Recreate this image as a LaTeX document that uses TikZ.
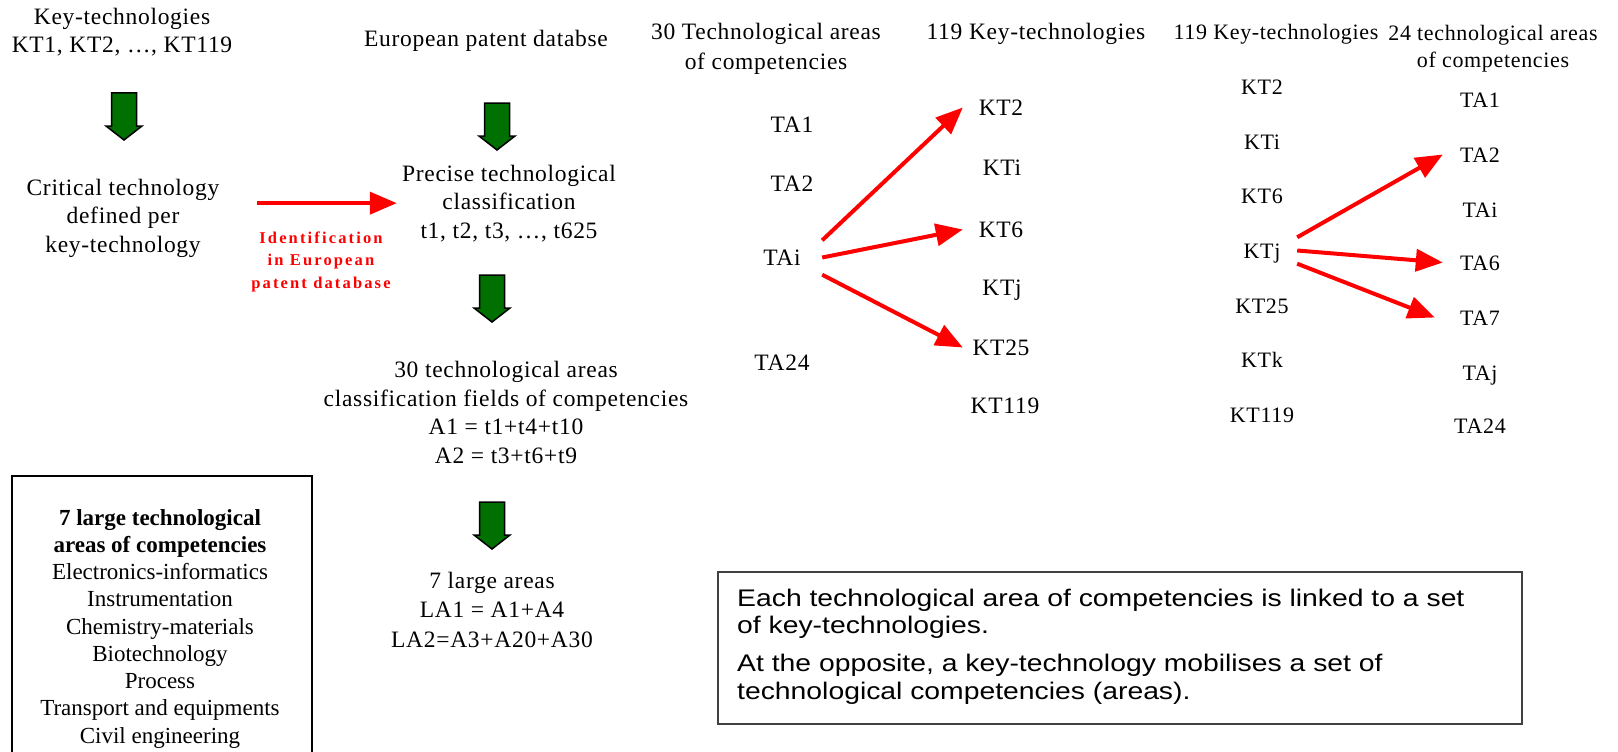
\documentclass[tikz,border=0pt]{standalone}
\usepackage{fontspec}
\setmainfont{Liberation Serif}[LetterSpace=3]
\newfontfamily\plainserif{Liberation Serif}
\newfontfamily\boxsans{Liberation Sans}[FakeStretch=1.18]
\usetikzlibrary{arrows.meta}
\definecolor{arrgreen}{RGB}{0,112,0}
\definecolor{purered}{RGB}{255,0,0}
\tikzset{
  txt/.style={anchor=base, align=center, inner sep=0pt, font=\fontsize{23.5}{28.5}\selectfont},
  item/.style={anchor=base, inner sep=0pt, text height=15pt, text depth=0pt, font=\fontsize{23.5}{28}\selectfont},
  ritem/.style={item, font=\fontsize{22}{28}\selectfont},
  redarrow/.style={draw=purered, line width=4pt, -{Triangle[length=27pt,width=22pt]}},
  frameline/.style={draw=black, line width=1.3pt},
  garrow/.pic={\draw[fill=arrgreen, draw=black, line width=1.5pt, line join=miter]
     (-12.5,0) -- (12.5,0) -- (12.5,33) -- (18,33) -- (0,47) -- (-18,33) -- (-12.5,33) -- cycle;}
}
\begin{document}
\begin{tikzpicture}[x=1pt, y=-1pt]
\useasboundingbox (0,0) rectangle (1618,752);

% (multi-line nodes are placed by the baseline of their last line)
% ---------- left column ----------
\node[txt] (kt) at (122,53) {Key-technologies\\KT1, KT2, \ldots, KT119};
\pic at (124,93) {garrow};
\node[txt, minimum width=268pt] (crit) at (123,252) {Critical technology\\defined per\\key-technology};
\node[anchor=base, align=center, inner sep=0pt, text=purered,
      font=\bfseries\fontsize{16.5}{22.5}\selectfont\addfontfeature{LetterSpace=13}] (idl) at (321,288)
      {Identification\\in European\\patent database};

% ---------- middle column ----------
\node[txt] (epd) at (486,47) {European patent databse};
\pic at (497,103) {garrow};
\node[txt, minimum width=224pt] (prec) at (509,238) {Precise technological\\classification\\t1, t2, t3, \ldots, t625};
\pic at (492,275) {garrow};
\node[txt] (ta30) at (506,463) {30 technological areas\\classification fields of competencies\\A1 = t1+t4+t10\\A2 = t3+t6+t9};
\pic at (492,502) {garrow};
\node[txt, font=\fontsize{23.5}{29.5}\selectfont] (la) at (492,647) {7 large areas\\LA1 = A1+A4\\LA2=A3+A20+A30};

\draw[redarrow] (crit.east |- prec.west) -- (prec.west);

% ---------- left box ----------
\draw[frameline] (12,754) -- (12,476) -- (312,476) -- (312,754);
\node[anchor=base, align=center, inner sep=0pt, font=\plainserif\fontsize{23}{27.25}\selectfont] (large) at (160,743)
  {\textbf{7 large technological}\\\textbf{areas of competencies}\\Electronics-informatics\\Instrumentation\\Chemistry-materials\\Biotechnology\\Process\\Transport and equipments\\Civil engineering};

% ---------- TA -> KT ----------
\node[txt, font=\fontsize{23.5}{30}\selectfont] (h1) at (766,70) {30 Technological areas\\of competencies};
\node[txt] (h2) at (1036,40) {119 Key-technologies};
\node[item] (mTA1) at (792,132) {TA1};
\node[item] (mTA2) at (792,191) {TA2};
\node[item, minimum width=80pt, minimum height=34pt] (mTAi) at (782,265) {TAi};
\node[item] (mTA24) at (782,370) {TA24};
\node[item, minimum width=76pt] (mKT2) at (1001,115) {KT2};
\node[item] (mKTi) at (1002,175) {KTi};
\node[item, minimum width=76pt] (mKT6) at (1001,237) {KT6};
\node[item] (mKTj) at (1002,295) {KTj};
\node[item, minimum width=76pt] (mKT25) at (1001,355) {KT25};
\node[item] (mKT119) at (1005,413) {KT119};
\draw[redarrow] (mTAi.north east) -- (mKT2.west);
\draw[redarrow] (mTAi.east) -- (mKT6.west);
\draw[redarrow] (mTAi.south east) -- (mKT25.west);

% ---------- KT -> TA ----------
\node[txt, font=\fontsize{22}{28}\selectfont] (h3) at (1276,40) {119 Key-technologies};
\node[txt, font=\fontsize{22}{28}\selectfont] (h4) at (1493,68) {24 technological areas\\of competencies};
\node[ritem] (rKT2) at (1262,95) {KT2};
\node[ritem] (rKTi) at (1262,149) {KTi};
\node[ritem] (rKT6) at (1262,203) {KT6};
\node[ritem, minimum width=70pt, minimum height=26pt] (rKTj) at (1262,258) {KTj};
\node[ritem] (rKT25) at (1262,313) {KT25};
\node[ritem] (rKTk) at (1262,367) {KTk};
\node[ritem] (rKT119) at (1262,422) {KT119};
\node[ritem] (rTA1) at (1480,107) {TA1};
\node[ritem, minimum width=74pt] (rTA2) at (1480,162) {TA2};
\node[ritem] (rTAi) at (1480,217) {TAi};
\node[ritem, minimum width=74pt] (rTA6) at (1480,270) {TA6};
\node[ritem, minimum width=90pt] (rTA7) at (1480,325) {TA7};
\node[ritem] (rTAj) at (1480,380) {TAj};
\node[ritem] (rTA24) at (1480,433) {TA24};
\draw[redarrow] (rKTj.north east) -- (rTA2.west);
\draw[redarrow] (rKTj.east) -- (rTA6.west);
\draw[redarrow] (rKTj.south east) -- (rTA7.west);

% ---------- note box ----------
\draw[draw=black!75, line width=1.2pt] (718,572) rectangle (1522,724);
\node[anchor=base west, align=left, inner sep=0pt, font=\boxsans\fontsize{24}{27.5}\selectfont] (note) at (737,699)
  {Each technological area of competencies is linked to a set\\of key-technologies.\\[10.5pt]At the opposite, a key-technology mobilises a set of\\technological competencies (areas).};
\end{tikzpicture}
\end{document}
